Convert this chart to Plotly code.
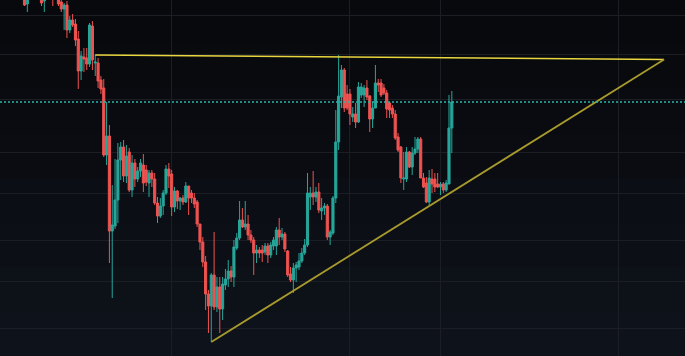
import plotly.graph_objects as go

# candle OHLC (price units), index = candle number
opens = [1.003,0.996,1.012,1.006,1.016,1.004,1.006,0.999,1.003,1.012,1.008,1.002,1.002,0.998,0.991,0.995,0.970,0.980,0.976,0.961,
         0.929,0.943,0.942,0.936,0.974,0.937,0.937,0.920,0.912,0.845,0.864,0.769,0.774,0.800,0.840,0.853,0.824,0.848,0.810,0.837,
         0.821,0.829,0.835,0.830,0.817,0.827,0.821,0.797,0.784,0.794,0.807,0.831,0.826,0.793,0.809,0.799,0.802,0.798,0.814,0.807,
         0.802,0.798,0.776,0.758,0.738,0.706,0.694,0.725,0.693,0.713,0.691,0.715,0.721,0.729,0.723,0.752,0.762,0.780,0.773,0.776,
         0.765,0.760,0.747,0.750,0.750,0.748,0.754,0.745,0.754,0.754,0.770,0.763,0.766,0.749,0.726,0.720,0.732,0.733,0.739,0.747,
         0.755,0.803,0.807,0.803,0.808,0.789,0.792,0.794,0.763,0.767,0.802,0.858,0.903,0.930,0.906,0.906,0.883,0.886,0.878,0.905,
         0.905,0.912,0.904,0.881,0.892,0.917,0.917,0.912,0.907,0.897,0.892,0.886,0.863,0.853,0.821,0.821,0.848,0.833,0.847,0.851,
         0.861,0.822,0.817,0.798,0.821,0.821,0.816,0.813,0.816,0.810,0.816,0.872]
highs = [1.008,1.006,1.016,1.018,1.022,1.016,1.010,1.008,1.014,1.016,1.012,1.014,1.006,1.001,0.997,0.999,0.984,0.986,0.981,0.969,
         0.949,0.952,0.952,0.977,0.979,0.945,0.942,0.924,0.921,0.898,0.875,0.815,0.841,0.857,0.858,0.860,0.855,0.852,0.845,0.841,
         0.833,0.841,0.846,0.835,0.830,0.830,0.827,0.803,0.802,0.810,0.835,0.837,0.830,0.813,0.810,0.803,0.805,0.818,0.814,0.810,
         0.807,0.800,0.776,0.763,0.744,0.710,0.727,0.768,0.723,0.723,0.723,0.731,0.740,0.734,0.760,0.767,0.799,0.792,0.799,0.785,
         0.770,0.763,0.755,0.753,0.755,0.757,0.757,0.758,0.763,0.773,0.782,0.772,0.768,0.750,0.733,0.737,0.738,0.747,0.752,0.761,
         0.827,0.813,0.829,0.813,0.817,0.802,0.797,0.796,0.770,0.804,0.890,0.945,0.935,0.932,0.915,0.911,0.893,0.897,0.918,0.917,
         0.915,0.920,0.905,0.898,0.935,0.921,0.921,0.916,0.910,0.898,0.895,0.890,0.867,0.854,0.848,0.853,0.849,0.853,0.863,0.863,
         0.863,0.827,0.823,0.830,0.831,0.827,0.827,0.818,0.818,0.820,0.905,0.909]
lows = [0.994,0.988,1.002,1.003,1.005,1.002,0.994,0.988,1.001,1.002,0.994,1.001,0.994,0.988,0.970,0.962,0.967,0.973,0.954,0.911,
        0.920,0.928,0.930,0.933,0.930,0.924,0.912,0.906,0.843,0.835,0.737,0.702,0.771,0.777,0.820,0.818,0.817,0.808,0.803,0.813,
        0.818,0.823,0.808,0.814,0.803,0.813,0.795,0.777,0.782,0.785,0.805,0.812,0.784,0.788,0.791,0.790,0.795,0.797,0.785,0.797,
        0.792,0.773,0.750,0.733,0.690,0.667,0.658,0.690,0.688,0.667,0.680,0.710,0.713,0.718,0.713,0.750,0.760,0.772,0.770,0.760,
        0.757,0.725,0.737,0.742,0.738,0.745,0.737,0.742,0.750,0.745,0.755,0.760,0.748,0.723,0.718,0.707,0.718,0.730,0.737,0.745,
        0.753,0.790,0.795,0.798,0.787,0.780,0.785,0.760,0.755,0.765,0.797,0.850,0.892,0.888,0.890,0.875,0.878,0.872,0.877,0.902,
        0.893,0.900,0.868,0.872,0.892,0.908,0.903,0.905,0.882,0.882,0.882,0.860,0.848,0.817,0.810,0.818,0.832,0.825,0.845,0.847,
        0.822,0.812,0.797,0.795,0.807,0.808,0.812,0.805,0.807,0.808,0.816,0.847]
closes = [0.995,1.002,1.004,1.014,1.008,1.012,0.997,1.003,1.010,1.004,1.001,1.010,0.996,0.991,0.995,0.970,0.980,0.975,0.960,0.929,
          0.944,0.941,0.936,0.975,0.940,0.938,0.919,0.911,0.845,0.864,0.769,0.775,0.800,0.840,0.853,0.824,0.844,0.810,0.837,0.821,
          0.829,0.837,0.817,0.818,0.827,0.821,0.797,0.784,0.794,0.807,0.831,0.824,0.793,0.809,0.799,0.802,0.798,0.814,0.802,0.802,
          0.796,0.776,0.758,0.738,0.706,0.694,0.725,0.693,0.713,0.691,0.716,0.721,0.729,0.723,0.753,0.762,0.780,0.773,0.776,0.765,
          0.760,0.747,0.750,0.747,0.747,0.754,0.745,0.755,0.760,0.770,0.763,0.766,0.751,0.725,0.720,0.732,0.735,0.739,0.747,0.755,
          0.807,0.807,0.803,0.808,0.790,0.792,0.794,0.763,0.768,0.802,0.858,0.904,0.930,0.892,0.892,0.886,0.886,0.878,0.913,0.913,
          0.912,0.903,0.881,0.892,0.917,0.915,0.905,0.907,0.891,0.890,0.886,0.862,0.850,0.822,0.822,0.848,0.833,0.847,0.851,0.861,
          0.822,0.813,0.798,0.822,0.816,0.813,0.813,0.816,0.810,0.817,0.872,0.898]
candle_index = list(range(len(closes)))

# trendlines: (candle index, price)
top_line_x = [25, 226]
top_line_y = [0.945, 0.9405]
rising_line_x = [66, 226]
rising_line_y = [0.658, 0.9405]

# grid positions
grid_x = [52, 115, 147, 210]
grid_y = [0.985, 0.946, 0.901, 0.848, 0.807, 0.760, 0.719, 0.672]

UP = "#26a69a"
DOWN = "#ef5350"

fig = go.Figure()
fig.add_trace(go.Candlestick(
    x=candle_index, open=opens, high=highs, low=lows, close=closes,
    increasing=dict(line=dict(color=UP, width=1), fillcolor=UP),
    decreasing=dict(line=dict(color=DOWN, width=1), fillcolor=DOWN),
    whiskerwidth=0, hoverinfo="skip", showlegend=False,
))
fig.add_trace(go.Scatter(x=top_line_x, y=top_line_y, mode="lines",
                         line=dict(color="#ead63e", width=1.5), hoverinfo="skip", showlegend=False))
fig.add_trace(go.Scatter(x=rising_line_x, y=rising_line_y, mode="lines",
                         line=dict(color="#a89a2c", width=1.8), hoverinfo="skip", showlegend=False))

shapes = []
# subtle vertical background gradient
bands = ["#07090d", "#080a0e", "#090b10", "#0a0c12", "#0b0e14", "#0c0f16", "#0d1118", "#0e121a"]
n = len(bands)
for k, c in enumerate(bands):
    shapes.append(dict(type="rect", xref="paper", yref="paper", x0=0, x1=1,
                       y0=1 - (k + 1) / n, y1=1 - k / n, fillcolor=c, line=dict(width=0), layer="below"))
# last price line
shapes.append(dict(type="line", xref="paper", yref="y", x0=0, x1=1, y0=closes[-1], y1=closes[-1],
                   line=dict(color="#2ab8a9", width=1.3, dash="2px,2px")))

fig.update_layout(
    width=685, height=356,
    margin=dict(l=0, r=0, t=0, b=0),
    paper_bgcolor="#0a0c11", plot_bgcolor="rgba(0,0,0,0)",
    boxgap=0.25, boxgroupgap=0,
    shapes=shapes,
    xaxis=dict(range=[-8.66, 233.4], rangeslider=dict(visible=False), tickvals=grid_x,
               showticklabels=False, showgrid=True, gridcolor="#1b1e25", gridwidth=1,
               zeroline=False, showline=False, fixedrange=True),
    yaxis=dict(range=[0.644, 1.0], tickvals=grid_y, showticklabels=False, showgrid=True,
               gridcolor="#1b1e25", gridwidth=1, zeroline=False, showline=False, fixedrange=True),
)

fig.write_html("out.html", config={"displayModeBar": False},
               post_script="document.body.style.margin='0';document.body.style.background='#0a0c11';document.body.style.overflow='hidden';")
